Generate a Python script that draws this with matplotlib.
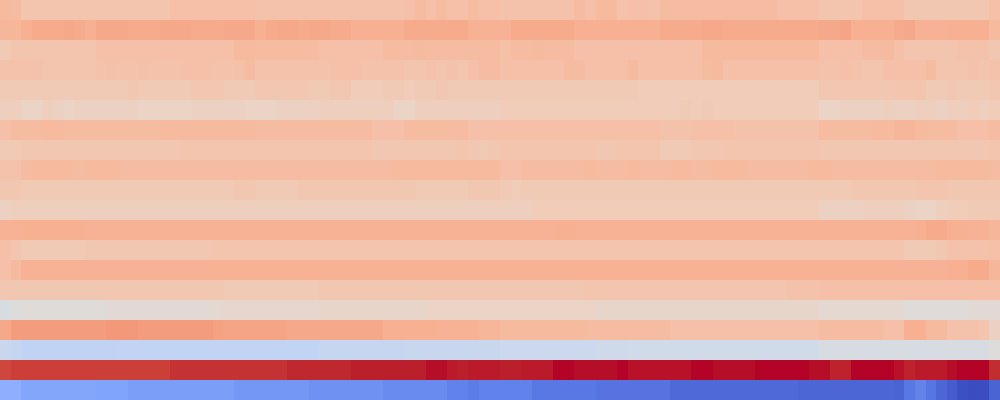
import matplotlib
matplotlib.use("Agg")
import matplotlib.pyplot as plt
import numpy as np

# values in percent of the colour range, 20 rows x 94 columns
row_00 = [66,65,62,62,62,62,62,62,62,62, 62,62,62,62,62,62,64,64,64,64,
          64,64,64,64,63,63,63,63,63,63, 63,63,63,63,63,63,63,63,64,65,
          64,65,64,64,65,64,64,63,63,63, 63,63,63,63,65,64,66,66,63,64,
          64,63,65,65,65,65,65,65,65,65, 65,65,65,64,64,64,64,62,62,62,
          62,64,64,64,64,61,61,61,61,61, 61,61,61,64]
row_01 = [67,67,69,70,70,70,71,70,69,71, 71,71,70,70,70,71,71,71,70,70,
          70,71,71,71,69,70,71,71,70,71, 71,70,70,69,69,69,69,69,70,70,
          70,70,70,70,68,68,68,68,70,70, 70,70,70,70,69,69,69,69,69,69,
          69,69,70,70,70,70,71,71,70,70, 70,70,70,70,70,70,70,71,71,72,
          69,69,69,69,70,71,68,68,68,69, 69,69,69,66]
row_02 = [60,62,62,62,62,62,62,62,62,64, 64,64,64,64,64,64,64,64,64,64,
          64,64,66,66,65,65,65,65,65,65, 64,64,64,64,64,64,65,65,65,66,
          65,65,65,65,65,65,65,64,65,65, 66,65,65,65,64,64,64,64,64,64,
          64,64,64,64,64,64,66,66,66,66, 66,66,66,66,66,66,66,64,64,64,
          64,65,65,66,64,62,62,62,62,62, 63,63,63,61]
row_03 = [63,63,63,63,62,62,62,62,62,63, 64,63,63,64,63,63,63,64,64,64,
          63,63,64,65,63,63,63,63,63,63, 63,64,64,64,63,63,63,63,62,62,
          63,62,63,62,64,65,65,64,64,64, 64,64,64,65,65,64,64,64,64,66,
          64,64,64,64,64,64,65,66,64,64, 64,64,64,64,64,64,64,63,63,64,
          63,62,62,64,64,64,64,65,62,62, 62,63,62,63]
row_04 = [60,60,60,60,60,60,60,60,60,60, 60,60,61,60,60,60,60,60,61,61,
          61,60,60,60,61,61,61,61,61,60, 60,61,61,59,59,59,60,60,59,60,
          60,61,60,60,60,60,60,60,60,60, 60,60,60,60,60,60,60,60,60,60,
          59,59,59,59,59,59,59,59,59,59, 59,59,59,59,59,59,59,61,61,61,
          61,61,61,61,62,62,62,60,60,61, 60,60,60,61]
row_05 = [58,58,56,56,58,57,56,57,57,57, 57,57,57,56,56,56,56,56,57,57,
          57,57,57,56,56,56,57,57,57,57, 58,58,58,58,58,58,58,56,56,58,
          58,58,58,58,58,58,58,59,59,59, 59,59,59,59,59,59,59,59,59,59,
          59,59,59,59,60,59,60,59,59,59, 59,59,59,59,59,59,59,56,56,57,
          57,57,57,58,57,57,58,58,57,58, 58,59,58,59]
row_06 = [64,65,65,65,66,66,65,65,65,65, 65,65,65,65,65,66,66,66,66,66,
          66,66,66,66,65,65,65,65,65,65, 65,65,65,65,65,64,64,64,65,65,
          65,65,65,65,64,64,64,64,64,64, 64,64,64,64,64,64,64,64,64,64,
          64,64,63,63,63,64,64,64,64,63, 63,63,63,63,63,63,63,65,65,65,
          65,65,66,66,67,67,66,65,65,65, 64,64,64,65]
row_07 = [60,60,61,61,61,61,61,61,61,61, 61,61,61,61,61,61,61,62,62,62,
          62,62,62,62,62,62,62,62,62,62, 62,62,62,62,62,61,61,61,61,61,
          61,61,61,62,61,60,61,62,62,62, 62,62,62,62,62,62,61,61,62,62,
          62,62,60,60,60,61,61,61,62,62, 62,62,62,62,62,62,62,61,61,61,
          61,61,61,61,61,61,61,61,61,61, 61,61,61,62]
row_08 = [63,63,65,66,66,66,66,65,66,66, 66,65,65,65,65,65,65,65,65,65,
          65,65,65,65,65,65,65,65,65,65, 65,65,65,65,65,65,65,66,66,66,
          66,66,66,66,66,66,66,64,64,65, 65,65,65,65,65,66,65,65,65,66,
          65,65,65,66,66,65,65,66,66,66, 65,65,65,65,65,65,66,66,65,65,
          65,65,65,65,65,65,65,65,66,66, 66,66,66,65]
row_09 = [61,61,60,60,60,60,60,60,60,60, 60,60,60,60,60,60,60,60,60,60,
          60,60,61,61,60,60,60,60,61,61, 61,61,61,61,61,61,61,61,61,60,
          60,60,60,60,61,61,61,60,59,60, 60,60,60,60,60,60,60,60,60,60,
          60,60,60,60,60,60,60,60,60,60, 60,60,60,60,60,60,60,60,60,60,
          61,61,61,61,61,61,62,62,62,61, 61,61,61,61]
row_10 = [57,58,58,58,58,58,58,58,58,58, 58,58,58,58,58,58,58,58,58,58,
          58,58,58,58,58,58,58,58,58,58, 58,58,58,58,58,58,58,58,58,58,
          58,58,58,58,58,58,58,58,58,58, 59,59,59,59,59,59,59,59,59,59,
          59,59,59,59,59,59,59,59,59,59, 59,59,59,59,59,59,59,57,57,57,
          57,58,58,58,58,57,56,56,58,59, 59,60,60,60]
row_11 = [68,68,69,69,69,69,69,69,68,68, 68,68,68,68,68,68,68,68,68,68,
          68,68,68,68,68,68,68,68,68,68, 68,68,68,68,68,68,68,68,68,68,
          68,68,68,68,68,68,68,68,68,68, 68,68,69,69,68,68,68,68,68,68,
          68,68,68,68,68,68,68,68,68,68, 68,68,68,68,68,68,68,68,68,68,
          68,68,68,68,68,68,69,70,70,69, 69,68,68,67]
row_12 = [64,62,60,60,60,60,60,60,61,61, 61,61,61,61,61,61,61,61,61,61,
          62,62,62,62,62,62,62,62,62,62, 62,62,62,62,62,62,62,62,62,62,
          62,62,62,62,62,62,62,62,62,62, 62,62,62,62,62,62,62,62,62,62,
          62,62,62,62,62,62,62,62,62,62, 62,62,62,62,62,62,62,62,62,62,
          62,62,62,62,62,60,60,60,61,63, 63,63,63,64]
row_13 = [64,66,68,68,68,68,68,68,68,68, 68,68,68,68,68,68,68,68,68,68,
          68,68,68,68,68,68,68,68,68,68, 68,68,68,68,68,68,68,68,68,68,
          68,68,68,68,68,68,68,68,68,68, 68,68,68,68,68,68,68,68,68,68,
          68,68,68,68,68,68,68,68,68,68, 68,68,68,68,68,68,68,68,68,68,
          68,68,68,68,68,68,68,68,68,69, 69,70,70,67]
row_14 = [61,61,61,61,61,61,61,61,61,61, 61,61,61,61,61,61,61,61,61,61,
          61,60,60,60,60,60,60,60,60,60, 61,61,61,61,61,61,61,61,61,61,
          61,61,61,61,61,61,61,61,61,61, 61,61,61,61,61,62,62,62,62,62,
          62,62,62,62,62,62,62,62,62,62, 62,62,62,62,63,63,63,64,64,64,
          64,64,64,64,64,64,64,64,64,64, 64,64,64,64]
row_15 = [48,50,51,51,51,51,51,51,51,51, 52,52,52,52,52,52,52,52,52,52,
          53,54,54,54,54,54,54,54,54,54, 55,55,55,55,55,55,55,55,55,55,
          56,56,56,56,56,56,56,56,56,56, 56,56,56,56,56,56,55,55,55,55,
          55,55,55,55,55,55,55,55,55,55, 55,55,55,55,55,55,55,53,53,53,
          53,53,53,53,53,51,51,51,51,51, 51,52,52,52]
row_16 = [71,74,74,74,74,74,74,74,74,74, 75,75,75,74,74,74,74,74,74,74,
          73,72,72,72,72,72,72,71,71,71, 71,71,71,71,71,71,69,69,69,69,
          69,68,68,68,68,67,67,66,66,66, 66,66,66,66,66,65,65,65,65,65,
          65,65,65,64,64,64,64,64,64,64, 64,64,64,64,64,64,64,65,65,65,
          65,65,65,64,64,69,69,66,66,63, 63,63,62,57]
row_17 = [43,42,40,40,40,40,40,40,40,40, 40,41,41,41,41,41,41,41,41,41,
          41,41,41,41,41,41,41,41,41,41, 42,42,42,42,42,42,42,42,43,43,
          43,43,43,43,43,43,43,44,44,44, 44,44,44,44,44,44,45,45,45,46,
          46,46,46,46,46,46,46,46,46,46, 46,46,46,46,46,46,46,48,48,48,
          48,48,48,48,48,48,48,48,48,48, 48,48,48,50]
row_18 = [92,93,93,93,93,93,93,93,93,93, 93,93,93,93,93,93,95,95,95,95,
          95,95,95,95,95,95,95,96.5,96.5,96.5, 96.5,96.5,96.5,97.5,97.5,97.5,97.5,97.5,97.5,97.5,
          99,99,98,97.5,98,98,98,97.5,97.5,98, 98,98,100,100,99,99,99,99,100,98.5,
          98.5,98.5,98.5,98.5,98.5,100,100,99,99,99, 99,100,100,100,100,100,99,99,97,97,
          100,100,100,100,98.5,97,98,98,98,99, 100,100,100,96]
row_19 = [25,25,22.5,22.5,22.5,22.5,22.5,22.5,22.5,21.5, 21.5,21.5,20,20,20,20,20,20,20,20,
          20,20,18,18,18,18,18,18,18,16.5, 16.5,16.5,16.5,16.5,16.5,16.5,15,15,15,15,
          15,15,12.5,12.5,11.5,12.5,12.5,12.5,12.5,12.5, 10.5,10.5,10.5,10.5,10.5,10.5,9,9,9,9,
          9,9,9,7,7,7,7,7,7,7, 7,7,7,7,7,6,6,6,6,6,
          6,6,6,6,5.5,10.5,13,10,6,4, 1,0,0.5,5.5]

rows = [row_00, row_01, row_02, row_03, row_04, row_05, row_06, row_07,
        row_08, row_09, row_10, row_11, row_12, row_13, row_14, row_15,
        row_16, row_17, row_18, row_19]
grid = np.array(rows, dtype=float)

fig = plt.figure(figsize=(10, 4), dpi=100)
ax = fig.add_axes([0, 0, 1, 1])
ax.imshow(grid, cmap="coolwarm", vmin=0, vmax=100, aspect="auto",
          interpolation="nearest")
ax.axis("off")
fig.savefig("out.png", dpi=100)
